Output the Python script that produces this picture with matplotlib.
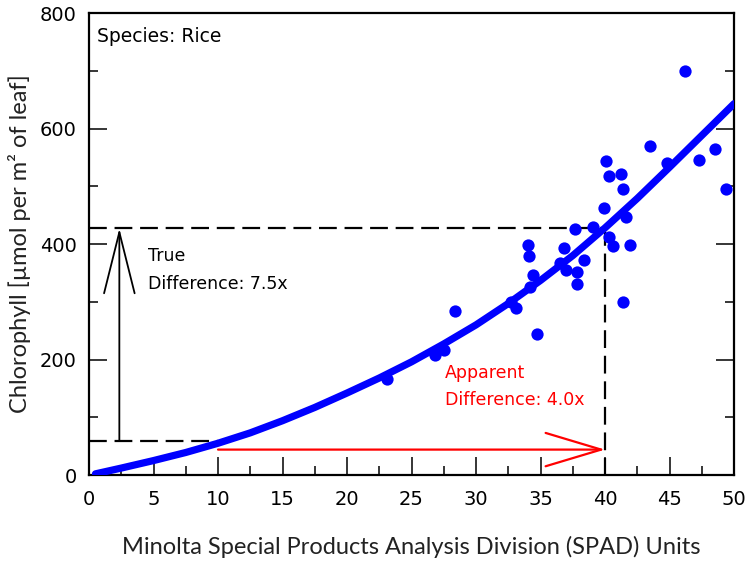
import matplotlib
matplotlib.use("Agg")
import matplotlib.pyplot as plt
from matplotlib import font_manager
from matplotlib.ticker import MultipleLocator

# SPAD readings vs chlorophyll (rice)
spad = [23.1, 26.8, 27.5, 28.4, 32.7, 33.1, 34.0, 34.1, 34.2, 34.4, 34.7,
        36.5, 36.8, 37.0, 37.7, 37.8, 37.8, 38.4, 39.1, 39.9, 40.1, 40.3,
        40.3, 40.6, 41.2, 41.4, 41.4, 41.6, 41.9, 43.5, 44.8, 46.2, 47.3,
        48.5, 49.4]
chl = [166, 208, 216, 284, 300, 290, 399, 379, 326, 346, 245,
       367, 393, 355, 426, 352, 331, 372, 430, 462, 544, 518,
       413, 397, 521, 496, 300, 447, 398, 570, 541, 700, 545,
       564, 496]

# fitted calibration curve
fit_x = [0.5, 2.5, 5, 7.5, 10, 12.5, 15, 17.5, 20, 22.5, 25, 27.5, 30,
         32.5, 35, 37.5, 40, 42.5, 45, 47.5, 50]
fit_y = [2, 12, 25, 39, 55, 73, 94, 117, 142, 168, 196, 227, 260,
         297, 337, 380, 428, 479, 533, 588, 643]

# comparison levels
spad_lo, spad_hi = 10, 40
chl_lo, chl_hi = 59, 427
red_y = 44
true_x = 2.35

names = {f.name for f in font_manager.fontManager.ttflist}
if 'DejaVu Sans Condensed' in names:
    narrow, fs, tfs = ['DejaVu Sans Condensed', 'DejaVu Sans'], 14, 15.5
else:
    narrow, fs, tfs = ['DejaVu Sans'], 12.5, 14

fig = plt.figure(figsize=(7.45, 5.62), dpi=100)
ax = fig.add_axes([0.1195, 0.1548, 0.8658, 0.822])

ax.plot(fit_x, fit_y, color='#0000ff', lw=5.2, solid_capstyle='round',
        solid_joinstyle='round', zorder=3)
ax.scatter(spad, chl, s=78, color='#0000ff', zorder=4, linewidths=0)

dash = (8, 3.5)
ax.plot([0, spad_hi], [chl_hi, chl_hi], color='black', lw=1.6, dashes=dash, zorder=2)
ax.plot([spad_hi, spad_hi], [chl_hi, 0], color='black', lw=1.6, dashes=dash, zorder=2)
ax.plot([0, spad_lo], [chl_lo, chl_lo], color='black', lw=1.6, dashes=dash, zorder=2)

ax.annotate('', xy=(true_x, chl_hi), xytext=(true_x, chl_lo),
            arrowprops=dict(arrowstyle='->,head_length=44,head_width=11',
                            mutation_scale=1, color='black', lw=1.3,
                            shrinkA=0, shrinkB=0))
ax.annotate('', xy=(spad_hi, red_y), xytext=(spad_lo, red_y),
            arrowprops=dict(arrowstyle='->,head_length=40,head_width=12',
                            mutation_scale=1, color='red', lw=1.6,
                            shrinkA=0, shrinkB=0))

ax.text(4.55, 394, 'True\nDifference: 7.5x', fontsize=fs, family=narrow,
        va='top', ha='left', linespacing=1.7)
ax.text(27.6, 193, 'Apparent\nDifference: 4.0x', fontsize=fs, family=narrow,
        color='red', va='top', ha='left', linespacing=1.7)
ax.text(0.012, 0.97, 'Species: Rice', transform=ax.transAxes, fontsize=13.5,
        family=narrow, va='top', ha='left')

ax.set_xlim(0, 50)
ax.set_ylim(0, 800)
ax.xaxis.set_major_locator(MultipleLocator(5))
ax.xaxis.set_minor_locator(MultipleLocator(2.5))
ax.yaxis.set_major_locator(MultipleLocator(200))
ax.yaxis.set_minor_locator(MultipleLocator(100))
ax.tick_params(which='both', direction='in', width=1.1, right=True, top=False)
ax.tick_params(which='major', length=13)
ax.tick_params(which='minor', length=6.5)
ax.tick_params(axis='y', pad=9)
ax.tick_params(axis='x', pad=11)
for lab in ax.get_xticklabels() + ax.get_yticklabels():
    lab.set_family(narrow)
    lab.set_fontsize(tfs)
for sp in ax.spines.values():
    sp.set_linewidth(1.6)

ax.set_xlabel('Minolta Special Products Analysis Division (SPAD) Units',
              family='Lato', fontsize=17, color='#222222', labelpad=19)
ax.set_ylabel('Chlorophyll [µmol per m² of leaf]', family='Lato',
              fontsize=17, color='#222222', labelpad=6)

fig.savefig('out.png', dpi=100)
